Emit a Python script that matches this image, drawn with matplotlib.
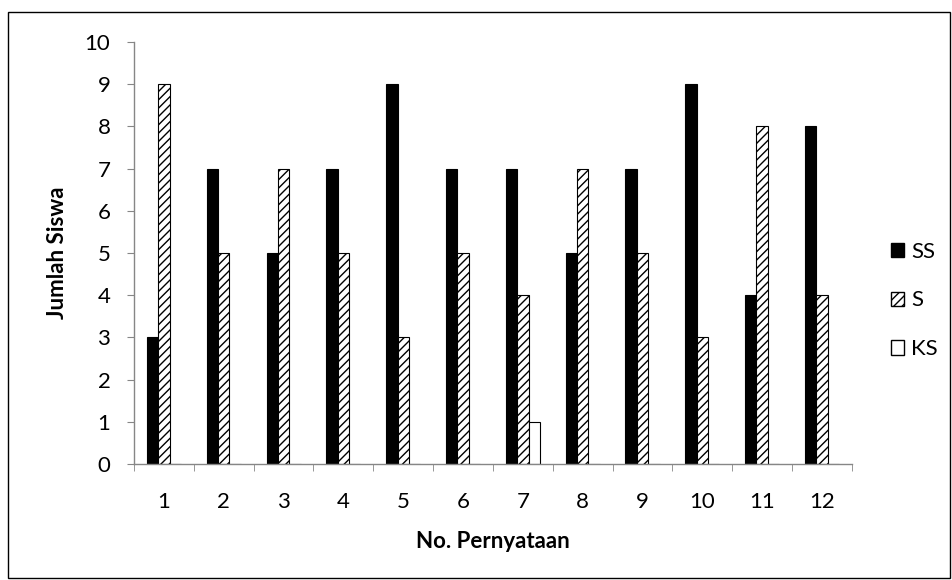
import matplotlib.pyplot as plt
import numpy as np
from matplotlib.patches import Rectangle, Patch

plt.rcParams['font.family'] = ['Lato', 'DejaVu Sans']
plt.rcParams['hatch.linewidth'] = 1.0

categories = [str(i) for i in range(1, 13)]
ss = [3, 7, 5, 7, 9, 7, 7, 5, 7, 9, 4, 8]
s = [9, 5, 7, 5, 3, 5, 4, 7, 5, 3, 8, 4]
ks = [0, 0, 0, 0, 0, 0, 1, 0, 0, 0, 0, 0]

fig = plt.figure(figsize=(9.53, 5.80), dpi=100)
ax = fig.add_axes([0.1406, 0.2, 0.7533, 0.7276])

x = np.arange(len(categories))
w = 0.19
ax.bar(x - w, ss, w, color='black', edgecolor='black', linewidth=0.8, label='SS')
ax.bar(x, s, w, color='white', edgecolor='black', hatch='////', linewidth=0.8, label='S')
ax.bar(x + w, ks, w, color='white', edgecolor='black', linewidth=0.8, label='KS')

ax.set_xlim(-0.5, len(categories) - 0.5)
ax.set_ylim(0, 10)
ax.set_yticks(range(0, 11))
ax.set_xticks(x)
ax.set_xticklabels(categories)
ax.set_xticks(np.arange(-0.5, len(categories)), minor=True)

gray = '#868686'
for side in ['top', 'right']:
    ax.spines[side].set_visible(False)
for side in ['left', 'bottom']:
    ax.spines[side].set_color(gray)
    ax.spines[side].set_linewidth(1.0)
ax.tick_params(axis='y', direction='out', length=5, color=gray, labelsize=16, pad=12)
ax.tick_params(axis='x', which='major', length=0, labelsize=16, pad=20)
ax.tick_params(axis='x', which='minor', direction='out', length=5, color=gray)

ax.set_xlabel('No. Pernyataan', fontsize=16, fontweight='bold', labelpad=14)
ax.set_ylabel('Jumlah Siswa', fontsize=16, fontweight='bold')
ax.yaxis.set_label_coords(-0.092, 0.5)

handles = [Patch(facecolor='black', edgecolor='black', label='SS'),
           Patch(facecolor='white', edgecolor='black', hatch='////', label='S'),
           Patch(facecolor='white', edgecolor='black', label='KS')]
fig.legend(handles=handles, loc='center left', bbox_to_anchor=(0.935, 0.482),
           frameon=False, fontsize=16, handlelength=0.6, handleheight=0.6,
           handletextpad=0.3, labelspacing=1.3, borderaxespad=0, borderpad=0)

fig.patches.append(Rectangle((0.0085, 0.003), 0.988, 0.976, transform=fig.transFigure,
                             fill=False, edgecolor='black', linewidth=1.0))

fig.savefig('out.png', dpi=100)
